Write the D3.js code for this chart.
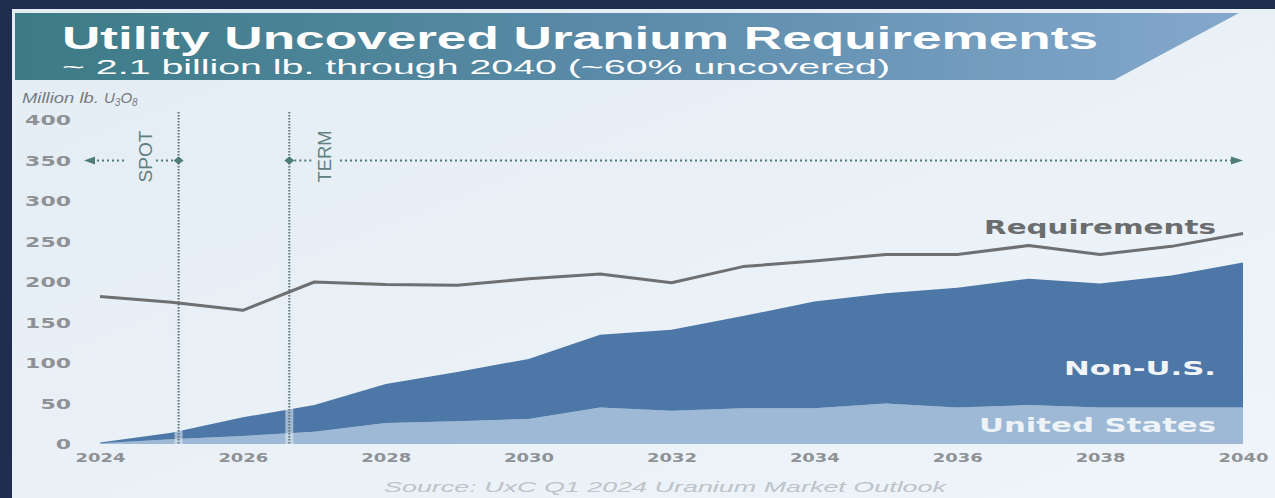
<!DOCTYPE html>
<html><head><meta charset="utf-8">
<script src="https://cdn.jsdelivr.net/npm/d3@7"></script>
<style>html,body{margin:0;padding:0;background:#1f2e4f;}svg{display:block;}</style>
</head><body>
<svg id="chart" width="1275" height="498"></svg>
<script>
const years = [2024,2025,2026,2027,2028,2029,2030,2031,2032,2033,2034,2035,2036,2037,2038,2039,2040];
const unitedStates = [1,6,10,15,26,28,31,45,41,44,44,50,45,48,45,45,45];
const nonUS = [1,8,23,33,48,61,74,90,100,114,132,136,148,156,153,163,179];
const requirements = [182,175,165,200,197,196,204,210,199,219,226,234,234,245,234,244,260];
const yTicks = [0,50,100,150,200,250,300,350,400];
const xTicks = [2024,2026,2028,2030,2032,2034,2036,2038,2040];
const spotYear = 2025.1, termYear = 2026.65, arrowLevel = 350;

const svg = d3.select("#chart");
const defs = svg.append("defs");
const pg = defs.append("linearGradient").attr("id","panel").attr("x1","0").attr("x2","1").attr("y1","0").attr("y2","1");
pg.append("stop").attr("offset","0").attr("stop-color","#e4edf4");
pg.append("stop").attr("offset","0.6").attr("stop-color","#eaf1f7");
pg.append("stop").attr("offset","1").attr("stop-color","#eff5fa");
const bg = defs.append("linearGradient").attr("id","banner").attr("x1","0").attr("x2","1");
bg.append("stop").attr("offset","0").attr("stop-color","#3c7b85");
bg.append("stop").attr("offset","0.5").attr("stop-color","#5b8ba9");
bg.append("stop").attr("offset","1").attr("stop-color","#84a8cc");

svg.append("rect").attr("x",0).attr("y",0).attr("width",1275).attr("height",498).attr("fill","#1f2e4f");
svg.append("rect").attr("x",12).attr("y",9).attr("width",1263).attr("height",489).attr("fill","url(#panel)");
svg.append("path").attr("d","M15,13 L1239,13 L1114,80 L15,80 Z").attr("fill","url(#banner)");

svg.append("text").attr("x",62).attr("y",49).attr("fill","#ffffff")
  .attr("font-family","Liberation Sans, Arial, sans-serif").attr("font-weight","bold").attr("font-size",32)
  .attr("textLength",1036).attr("lengthAdjust","spacingAndGlyphs")
  .text("Utility Uncovered Uranium Requirements");
svg.append("text").attr("x",62).attr("y",74).attr("fill","#ffffff")
  .attr("font-family","Liberation Sans, Arial, sans-serif").attr("font-size",21)
  .attr("textLength",828).attr("lengthAdjust","spacingAndGlyphs")
  .text("~ 2.1 billion lb. through 2040 (~60% uncovered)");

const x = d3.scaleLinear().domain([2024,2040]).range([100,1243]);
const y = d3.scaleLinear().domain([0,400]).range([444,120]);

// axis label
const al = svg.append("text").attr("x",22).attr("y",103).attr("fill","#767b80")
  .attr("font-family","Liberation Sans, Arial, sans-serif").attr("font-style","italic").attr("font-size",15);
al.append("tspan").attr("textLength",82).attr("lengthAdjust","spacingAndGlyphs").text("Million lb. ");
al.append("tspan").text("U");
al.append("tspan").attr("font-size",10).attr("dy",3).text("3");
al.append("tspan").attr("dy",-3).text("O");
al.append("tspan").attr("font-size",10).attr("dy",3).text("8");

// y axis (labels only)
const yAxis = d3.axisLeft(y).tickValues(yTicks).tickSize(0).tickPadding(0);
const gy = svg.append("g").attr("transform","translate(71,0)").call(yAxis);
gy.select(".domain").remove();
gy.selectAll("text").attr("fill","#8e9296").attr("font-family","DejaVu Sans, sans-serif")
  .attr("font-weight","bold").attr("font-size",14).attr("dy","0.35em")
  .attr("textLength",d=>String(d).length*15.3).attr("lengthAdjust","spacingAndGlyphs");

const xAxis = d3.axisBottom(x).tickValues(xTicks).tickFormat(d3.format("d")).tickSize(0).tickPadding(0);
const gx = svg.append("g").attr("transform","translate(0,453)").call(xAxis);
gx.select(".domain").remove();
gx.selectAll("text").attr("fill","#8e9296").attr("font-family","DejaVu Sans, sans-serif")
  .attr("font-weight","bold").attr("font-size",13).attr("dy","0.71em")
  .attr("textLength",50).attr("lengthAdjust","spacingAndGlyphs");

// stacked areas
const rows = years.map((yr,i)=>({year:yr, us:unitedStates[i], nonus:nonUS[i]}));
const stack = d3.stack().keys(["us","nonus"])(rows);
const area = d3.area().x(d=>x(d.data.year)).y0(d=>y(d[0])).y1(d=>y(d[1]));
const colors = {us:"#9db9d6", nonus:"#4c77a7"};
svg.append("g").selectAll("path").data(stack).join("path")
  .attr("d",area).attr("fill",d=>colors[d.key]);

// light bands + vertical dotted lines
[spotYear, termYear].forEach(v=>{
  svg.append("rect").attr("x",x(v)-4).attr("y",112).attr("width",8)
    .attr("height", y(0)-112).attr("fill","#e6eef5").attr("opacity",0.55);
  svg.append("line").attr("x1",x(v)).attr("x2",x(v)).attr("y1",112).attr("y2",y(0))
    .attr("stroke","#5e7273").attr("stroke-width",2).attr("stroke-dasharray","1.5,1.5");
});

// requirements line
const line = d3.line().x((d,i)=>x(years[i])).y(d=>y(d));
svg.append("path").attr("d",line(requirements)).attr("fill","none")
  .attr("stroke","#6e6f71").attr("stroke-width",3).attr("stroke-linejoin","round");

// spot / term arrows
const ay = y(arrowLevel);
const ac = "#4f7b78";
const dl = (a,b)=>svg.append("line").attr("x1",a).attr("x2",b).attr("y1",ay).attr("y2",ay)
  .attr("stroke",ac).attr("stroke-width",2).attr("stroke-dasharray","2,3");
dl(92,124); dl(156,x(spotYear)); dl(x(termYear),312); dl(340,1232);
svg.append("path").attr("d",`M84,${ay} L95,${ay-4} L95,${ay+4} Z`).attr("fill",ac);
svg.append("path").attr("d",`M1243,${ay} L1231,${ay-4} L1231,${ay+4} Z`).attr("fill",ac);
[spotYear, termYear].forEach(v=>{
  svg.append("path").attr("d",`M${x(v)-5},${ay} L${x(v)},${ay-4} L${x(v)+5},${ay} L${x(v)},${ay+4} Z`).attr("fill",ac);
});
const vt = (t,xx)=>svg.append("text").attr("transform",`translate(${xx},${ay-4}) rotate(-90)`).attr("text-anchor","middle")
  .attr("dy","0.35em").attr("fill","#62807f").attr("font-family","Liberation Sans, Arial, sans-serif")
  .attr("font-size",19).attr("textLength",52).attr("lengthAdjust","spacingAndGlyphs").text(t);
vt("SPOT",145); vt("TERM",324);

// series labels
const lab = (t,yy,fill,len)=>svg.append("text").attr("x",1216).attr("y",yy).attr("text-anchor","end")
  .attr("fill",fill).attr("font-family","DejaVu Sans, sans-serif").attr("font-weight","bold")
  .attr("font-size",19).attr("textLength",len).attr("lengthAdjust","spacingAndGlyphs").text(t);
lab("Requirements",234,"#6b6c6e",232);
lab("Non-U.S.",375,"#f2f5f8",152);
lab("United States",432,"#eef3f8",237);

svg.append("text").attr("x",665).attr("y",492).attr("text-anchor","middle").attr("fill","#bcc3c9")
  .attr("font-family","Liberation Sans, Arial, sans-serif").attr("font-style","italic").attr("font-size",14)
  .attr("textLength",562).attr("lengthAdjust","spacingAndGlyphs")
  .text("Source: UxC Q1 2024 Uranium Market Outlook");
</script>
</body></html>
